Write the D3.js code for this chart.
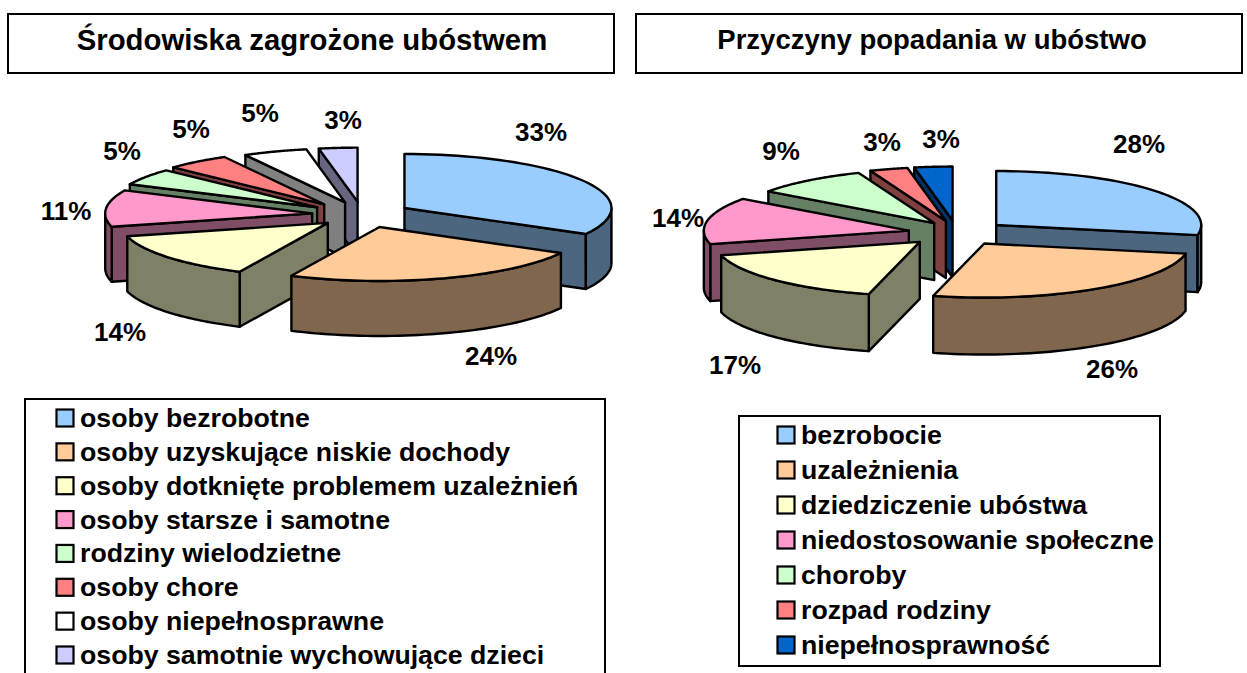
<!DOCTYPE html>
<html><head><meta charset="utf-8">
<script src="https://cdn.jsdelivr.net/npm/d3@7/dist/d3.min.js"></script>
<style>html,body{margin:0;padding:0;background:#fff;overflow:hidden}svg{display:block}text{font-family:"Liberation Sans",Arial,sans-serif;font-weight:bold;fill:#000}</style>
</head><body><svg id="c" width="1247" height="673"></svg>
<script>
const titleLeft = "Środowiska zagrożone ubóstwem";
const titleRight = "Przyczyny popadania w ubóstwo";
const categoriesLeft = ["osoby bezrobotne","osoby uzyskujące niskie dochody","osoby dotknięte problemem uzależnień","osoby starsze i samotne","rodziny wielodzietne","osoby chore","osoby niepełnosprawne","osoby samotnie wychowujące dzieci"];
const valuesLeft = [33,24,14,11,5,5,5,3];
const colorsLeft = ["#99CCFF","#FFCC99","#FFFFCC","#FF99CC","#CCFFCC","#FF8080","#FFFFFF","#CCCCFF"];
const categoriesRight = ["bezrobocie","uzależnienia","dziedziczenie ubóstwa","niedostosowanie społeczne","choroby","rozpad rodziny","niepełnosprawność"];
const valuesRight = [28,26,17,14,9,3,3];
const colorsRight = ["#99CCFF","#FFCC99","#FFFFCC","#FF99CC","#CCFFCC","#FF8080","#0066CC"];

const svg = d3.select("#c");
const deg = Math.PI/180;

function box(x,y,w,h){ svg.append("rect").attr("x",x).attr("y",y).attr("width",w).attr("height",h).attr("fill","#fff").attr("stroke","#000").attr("stroke-width",2); }

function pie3d(values,colors,o){
  const arcs = d3.pie().sort(null).value(d=>d)(values);
  const lineGen = d3.line();
  const P = (a,ox,oy)=>[ox+o.rx*Math.sin(a), oy-o.ry*Math.cos(a)];
  const items = arcs.map((d,i)=>{
    const mid=(d.startAngle+d.endAngle)/2;
    return {d,i,mid,ox:o.cx+o.ex*Math.sin(mid)+o.nudge[i],oy:o.cy-o.ey*Math.cos(mid)};
  }).sort((a,b)=>(-Math.cos(a.mid))-(-Math.cos(b.mid)));
  const g = svg.append("g").attr("stroke","#000").attr("stroke-width",2.4).attr("stroke-linejoin","round");
  const n=48;
  items.forEach(s=>{
    const a0=s.d.startAngle,a1=s.d.endAngle,c=d3.rgb(colors[s.i]);
    const dark=d3.rgb(c.r*0.5,c.g*0.5,c.b*0.5).formatHex();
    const arcPts=d3.range(n+1).map(k=>P(a0+(a1-a0)*k/n,s.ox,s.oy));
    const down=p=>[p[0],p[1]+o.depth];
    const apex=[s.ox,s.oy];
    if(Math.sin(a0)<-1e-6){ const e=P(a0,s.ox,s.oy); g.append("path").attr("fill",dark).attr("d",lineGen([apex,e,down(e),down(apex)])+"Z"); }
    if(Math.sin(a1)>1e-6){ const e=P(a1,s.ox,s.oy); g.append("path").attr("fill",dark).attr("d",lineGen([apex,e,down(e),down(apex)])+"Z"); }
    const lo=Math.max(a0,90*deg),hi=Math.min(a1,270*deg);
    if(hi>lo){
      const pts=d3.range(n+1).map(k=>P(lo+(hi-lo)*k/n,s.ox,s.oy));
      g.append("path").attr("fill",dark).attr("d",lineGen(pts.concat(pts.slice().reverse().map(down)))+"Z");
    }
    g.append("path").attr("fill",colors[s.i]).attr("d",lineGen([apex].concat(arcPts))+"Z");
  });
  o.labels.forEach((p,i)=>{
    svg.append("text").attr("x",p[0]).attr("y",p[1]).attr("text-anchor","middle").attr("dominant-baseline","central").attr("font-size",26).text(values[i]+"%");
  });
}

function legend(cats,colors,o){
  const y=d3.scaleLinear().domain([0,cats.length-1]).range([o.y0,o.y1]);
  cats.forEach((t,i)=>{
    svg.append("rect").attr("x",o.sx).attr("y",y(i)-8.5).attr("width",17).attr("height",17).attr("fill",colors[i]).attr("stroke","#000").attr("stroke-width",2.2);
    svg.append("text").attr("x",o.tx).attr("y",y(i)).attr("dominant-baseline","central").attr("font-size",o.fs).text(t);
  });
}

box(8,14,606,59); box(636,14,606,59);
svg.append("text").attr("x",312).attr("y",39).attr("text-anchor","middle").attr("dominant-baseline","central").attr("font-size",29.3).text(titleLeft);
svg.append("text").attr("x",932).attr("y",39).attr("text-anchor","middle").attr("dominant-baseline","central").attr("font-size",27.5).text(titleRight);

pie3d(valuesLeft,colorsLeft,{cx:364,cy:214.6,rx:207,ry:54,ex:47,ey:13,depth:55,nudge:[0,1,0,-5,-8,-11,-3,-2],
  labels:[[541,132],[491,356],[120,332],[66,211],[122,151],[191,129],[260,113],[343,120]]});
pie3d(valuesRight,colorsRight,{cx:960,cy:233,rx:205,ry:54,ex:47,ey:12.5,depth:57,nudge:[0,-1,-7,-5,3,-1,-3],
  labels:[[1139,144],[1112,369],[735,365],[678,218],[781,151],[882,142],[941,139]]});

box(25,399,580,290);
box(739,416,421,250);
legend(categoriesLeft,colorsLeft,{sx:56.5,tx:80,y0:418,y1:655,fs:26.7});
legend(categoriesRight,colorsRight,{sx:777.5,tx:801,y0:435,y1:645,fs:26.7});
</script></body></html>
